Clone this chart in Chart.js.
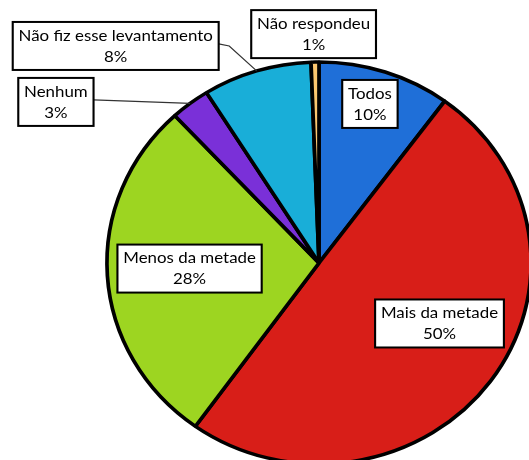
<!DOCTYPE html>
<html><head><meta charset="utf-8">
<script src="https://cdn.jsdelivr.net/npm/chart.js@4/dist/chart.umd.min.js"></script>
<style>html,body{margin:0;padding:0;background:#fff;overflow:hidden;width:529px;height:460px}canvas{display:block}</style>
</head><body>
<canvas id="c" width="529" height="470"></canvas>
<script>
const categories = ['Todos', 'Mais da metade', 'Menos da metade', 'Nenhum', 'Não fiz esse levantamento', 'Não respondeu'];
const values = [10.1, 49.8, 28.2, 3.0, 8.3, 0.6];
const colors = ['#1f6fd8', '#d81e18', '#9dd521', '#7a30d8', '#19aed8', '#fbc770'];

const STRETCH = 1.055;
const placement = [
  {r: 0.827, da: -1.3},
  {r: 0.643, da: -8.1},
  {r: 0.611, da: 1.0},
  {r: 1.477, da: -19.7, leader: true},
  {r: 1.444, da: -24.5, leader: true, elbow: 10},
  {r: 1.139, da: -0.2}
];

const labelPlugin = {
  id: 'labels',
  beforeDraw(chart) {
    const ctx = chart.ctx, a = chart.chartArea;
    const cx = (a.left + a.right) / 2, cy = (a.top + a.bottom) / 2;
    ctx.save();
    ctx.translate(cx, cy); ctx.scale(STRETCH, 1); ctx.translate(-cx, -cy);
  },
  afterDraw(chart) {
    const ctx = chart.ctx;
    const meta = chart.getDatasetMeta(0);
    const total = values.reduce((s, v) => s + v, 0);
    ctx.font = '16px Lato';
    const boxes = meta.data.map((arc, i) => {
      const {x, y, startAngle, endAngle, outerRadius} = arc.getProps(['x', 'y', 'startAngle', 'endAngle', 'outerRadius'], true);
      const mid = (startAngle + endAngle) / 2;
      const p = placement[i];
      const ang = mid + p.da * Math.PI / 180;
      const lx = x + Math.cos(ang) * outerRadius * p.r;
      const ly = y + Math.sin(ang) * outerRadius * p.r;
      const lines = [categories[i], Math.round(values[i] / total * 100) + '%'];
      const w = Math.max(...lines.map(t => ctx.measureText(t).width)) + 11;
      const h = 48;
      return {lx, ly, w, h, lines, rim: [x + Math.cos(mid) * outerRadius, y + Math.sin(mid) * outerRadius], p};
    });
    ctx.strokeStyle = '#333'; ctx.lineWidth = 1.2;
    boxes.forEach(b => {
      if (!b.p.leader) return;
      const bx = b.lx + b.w / 2;
      ctx.beginPath();
      ctx.moveTo(bx, b.ly - 2);
      if (b.p.elbow) ctx.lineTo(bx + b.p.elbow, b.ly);
      ctx.lineTo(b.rim[0], b.rim[1]);
      ctx.stroke();
    });
    boxes.forEach(b => {
      const x0 = b.lx - b.w / 2, y0 = b.ly - b.h / 2;
      ctx.fillStyle = '#fff';
      ctx.fillRect(x0, y0, b.w, b.h);
      ctx.strokeStyle = '#000'; ctx.lineWidth = 2;
      ctx.strokeRect(x0, y0, b.w, b.h);
      ctx.fillStyle = '#000';
      ctx.textAlign = 'center'; ctx.textBaseline = 'middle';
      ctx.fillText(b.lines[0], b.lx, b.ly - 10.5);
      ctx.fillText(b.lines[1], b.lx, b.ly + 10.5);
    });
    ctx.restore();
  }
};

new Chart(document.getElementById('c'), {
  type: 'pie',
  data: {
    labels: categories,
    datasets: [{
      data: values,
      backgroundColor: colors,
      borderColor: '#000',
      borderWidth: 3.5,
      radius: 201,
      clip: false
    }]
  },
  options: {
    responsive: false,
    animation: false,
    layout: {padding: {left: 118, right: 9, top: 62, bottom: 6}},
    plugins: {legend: {display: false}, tooltip: {enabled: false}}
  },
  plugins: [labelPlugin]
});
</script>
</body></html>
